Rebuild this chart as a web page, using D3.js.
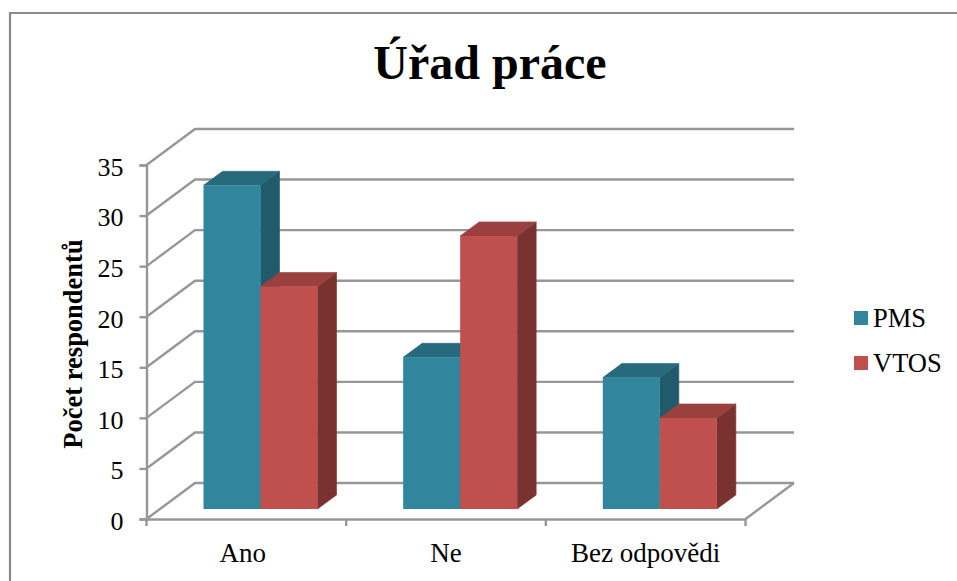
<!DOCTYPE html>
<html><head><meta charset="utf-8">
<script src="https://cdn.jsdelivr.net/npm/d3@7/dist/d3.min.js"></script>
<style>
html,body{margin:0;padding:0;background:#fff}
svg{display:block}
text{font-family:"Liberation Serif","Times New Roman",serif;fill:#000}
</style></head><body>
<svg id="c" width="957" height="581"></svg>
<script>
const categories = ["Ano", "Ne", "Bez odpovědi"];
const seriesNames = ["PMS", "VTOS"];
const pmsValues = [32, 15, 13];
const vtosValues = [22, 27, 9];
const yTicks = [0, 5, 10, 15, 20, 25, 30, 35];
const titleText = "Úřad práce";
const yAxisTitle = "Počet respondentů";
const frontColors = ["#31859c", "#c0504d"];
const topColors = ["#276a7d", "#9a403e"];
const sideColors = ["#215a6a", "#7a3230"];
const gridColor = "#979797";

const svg = d3.select("#c");
const y = d3.scaleLinear().domain([0, 35]).range([519, 165]);
const x = d3.scaleBand().domain(categories).range([146.5, 745.5]);
const depthX = 48.5, depthY = -36;
const barShiftY = -10, barDepthX = 19, barDepthY = -14;
const barW = 57, barInset = 57;

// frame
svg.append("path").attr("d", "M10,581V13H957").attr("fill", "none")
  .attr("stroke", "#8a8a8a").attr("stroke-width", 2.2);

// title
svg.append("text").attr("x", 490).attr("y", 79).attr("text-anchor", "middle")
  .attr("font-size", 48).attr("font-weight", "bold").text(titleText);

// walls and gridlines
const g = svg.append("g").attr("fill", "none").attr("stroke", gridColor).attr("stroke-width", 2.4);
g.selectAll("path.grid").data(yTicks).join("path").attr("class", "grid")
  .attr("d", d => `M${x.range()[0]},${y(d)}L${x.range()[0] + depthX},${y(d) + depthY}H${x.range()[1] + depthX}`);
g.append("path").attr("d", `M${x.range()[1]},${y(0)}L${x.range()[1] + depthX},${y(0) + depthY}`);

// axes
const axisL = svg.append("g").attr("transform", `translate(${x.range()[0]},0)`)
  .call(d3.axisLeft(y).tickValues(yTicks).tickSize(7).tickPadding(16));
axisL.selectAll("text").attr("font-size", 26).attr("dy", "0.40em")
  .attr("font-family", "Liberation Serif").attr("fill", "#000");
const axisB = svg.append("g").attr("transform", `translate(0,${y(0)})`)
  .call(d3.axisBottom(x).tickSize(0).tickPadding(24));
axisB.selectAll("text").attr("font-size", 27).attr("font-family", "Liberation Serif").attr("fill", "#000");
axisB.selectAll("text").filter(d => d === categories[0]).attr("dx", -3.5);
axisL.selectAll("path,line").attr("stroke", gridColor).attr("stroke-width", 2.4);
axisB.select("path").attr("stroke", gridColor).attr("stroke-width", 2.4);
const tickEdges = [x.range()[0]].concat(categories.map(c => x(c) + x.bandwidth()));
svg.append("g").selectAll("line").data(tickEdges).join("line")
  .attr("x1", d => d).attr("x2", d => d).attr("y1", y(0)).attr("y2", y(0) + 7)
  .attr("stroke", gridColor).attr("stroke-width", 2.4);

// axis title
svg.append("text").attr("transform", "translate(82,344) rotate(-90)")
  .attr("text-anchor", "middle").attr("font-size", 26.5).attr("font-weight", "bold").text(yAxisTitle);

// bars
const series = [pmsValues, vtosValues];
const bars = svg.append("g");
categories.forEach((c, ci) => {
  series.forEach((vals, si) => {
    const x0 = x(c) + barInset + si * barW, x1 = x0 + barW;
    const yb = y(0) + barShiftY, yt = y(vals[ci]) + barShiftY;
    const grp = bars.append("g").attr("stroke-width", 0.6);
    grp.append("path").attr("fill", sideColors[si]).attr("stroke", sideColors[si])
      .attr("d", `M${x1},${yt}l${barDepthX},${barDepthY}V${yb + barDepthY}L${x1},${yb}Z`);
    grp.append("path").attr("fill", topColors[si]).attr("stroke", topColors[si])
      .attr("d", `M${x0},${yt}l${barDepthX},${barDepthY}H${x1 + barDepthX}L${x1},${yt}Z`);
    grp.append("rect").attr("x", x0).attr("y", yt).attr("width", barW).attr("height", yb - yt)
      .attr("fill", frontColors[si]);
  });
});

// legend
const leg = svg.append("g").selectAll("g").data(seriesNames).join("g")
  .attr("transform", (d, i) => `translate(854,${311 + i * 45})`);
leg.append("rect").attr("width", 14).attr("height", 14).attr("fill", (d, i) => frontColors[i]);
leg.append("text").attr("x", 19).attr("y", 16).attr("font-size", 26.5).text(d => d);
</script>
</body></html>
